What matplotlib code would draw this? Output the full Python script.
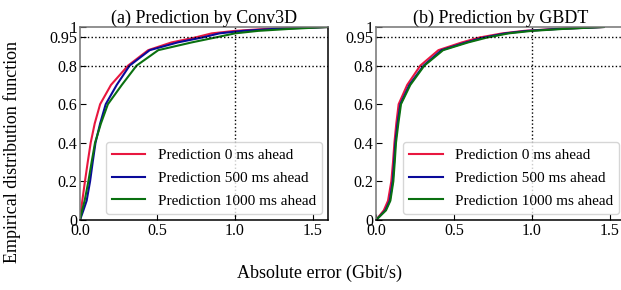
import numpy as np
import matplotlib
matplotlib.use("Agg")
import matplotlib.pyplot as plt

plt.rcParams['font.family'] = ['Liberation Serif', 'DejaVu Serif']

# CDF levels (empirical distribution function)
cdf = [0, 0.05, 0.1, 0.2, 0.3, 0.4, 0.5, 0.6, 0.7, 0.8, 0.88, 0.92, 0.945, 0.967, 0.98, 0.99, 1.0]

# (a) Conv3D: absolute error (Gbit/s) at each CDF level
conv_0 = [0, 0.007, 0.015, 0.032, 0.05, 0.069, 0.095, 0.13, 0.2, 0.31, 0.44, 0.59, 0.74, 0.85, 1.0, 1.2, 1.6]
conv_500 = [0, 0.022, 0.043, 0.065, 0.082, 0.10, 0.13, 0.166, 0.237, 0.32, 0.45, 0.63, 0.785, 0.9, 1.05, 1.25, 1.6]
conv_1000 = [0, 0.014, 0.03, 0.054, 0.075, 0.097, 0.135, 0.18, 0.27, 0.365, 0.505, 0.72, 0.87, 1.0, 1.15, 1.35, 1.6]

# (b) GBDT
gbdt_0 = [0, 0.05, 0.077, 0.098, 0.109, 0.118, 0.13, 0.145, 0.2, 0.284, 0.40, 0.55, 0.66, 0.81, 0.95, 1.15, 1.46]
gbdt_500 = [0, 0.06, 0.088, 0.107, 0.116, 0.124, 0.138, 0.156, 0.214, 0.305, 0.42, 0.577, 0.69, 0.83, 0.97, 1.17, 1.46]
gbdt_1000 = [0, 0.064, 0.092, 0.111, 0.12, 0.128, 0.143, 0.16, 0.22, 0.31, 0.43, 0.59, 0.71, 0.85, 1.0, 1.2, 1.46]

labels = ["Prediction 0 ms ahead", "Prediction 500 ms ahead", "Prediction 1000 ms ahead"]
colors = ["#e8173f", "#0a0a9a", "#0a7010"]
titles = ["(a) Prediction by Conv3D", "(b) Prediction by GBDT"]

fig = plt.figure(figsize=(6.21, 2.9), dpi=100)
ax1 = fig.add_axes([0.1288, 0.2414, 0.3994, 0.6655])
ax2 = fig.add_axes([0.6055, 0.2414, 0.4019, 0.6655])

for ax, series, title in zip([ax1, ax2], [[conv_0, conv_500, conv_1000], [gbdt_0, gbdt_500, gbdt_1000]], titles):
    for xs, c, lab in zip(series, colors, labels):
        ax.plot(xs, cdf, color=c, lw=1.5, label=lab)
    ax.axhline(0.95, color="black", ls=":", lw=1)
    ax.axhline(0.8, color="black", ls=":", lw=1)
    ax.axvline(1.0, color="black", ls=":", lw=1)
    ax.set_xlim(0, 1.6)
    ax.set_ylim(0, 1)
    ax.set_xticks([0, 0.5, 1.0, 1.5])
    ax.set_xticklabels(["0.0", "0.5", "1.0", "1.5"])
    ax.set_yticks([0, 0.2, 0.4, 0.6, 0.8, 0.95, 1])
    ax.set_yticklabels(["0", "0.2", "0.4", "0.6", "0.8", "0.95", "1"])
    ax.tick_params(direction="in", labelsize=11.5, length=4, pad=2)
    for s in ["left", "top"]:
        ax.spines[s].set_color("0.45")
    for s in ax.spines.values():
        s.set_linewidth(1.1)
    ax.set_title(title, fontsize=13, pad=2)
    ax.legend(loc="lower right", fontsize=11, handlelength=2.2, borderaxespad=0.4,
              labelspacing=0.6, handletextpad=0.8)

fig.text(0.02, 0.476, "Empirical distribution function", rotation=90, ha="center", va="center", fontsize=13)
fig.text(0.515, 0.059, "Absolute error (Gbit/s)", ha="center", va="center", fontsize=13)

fig.savefig("out.png", dpi=100)
